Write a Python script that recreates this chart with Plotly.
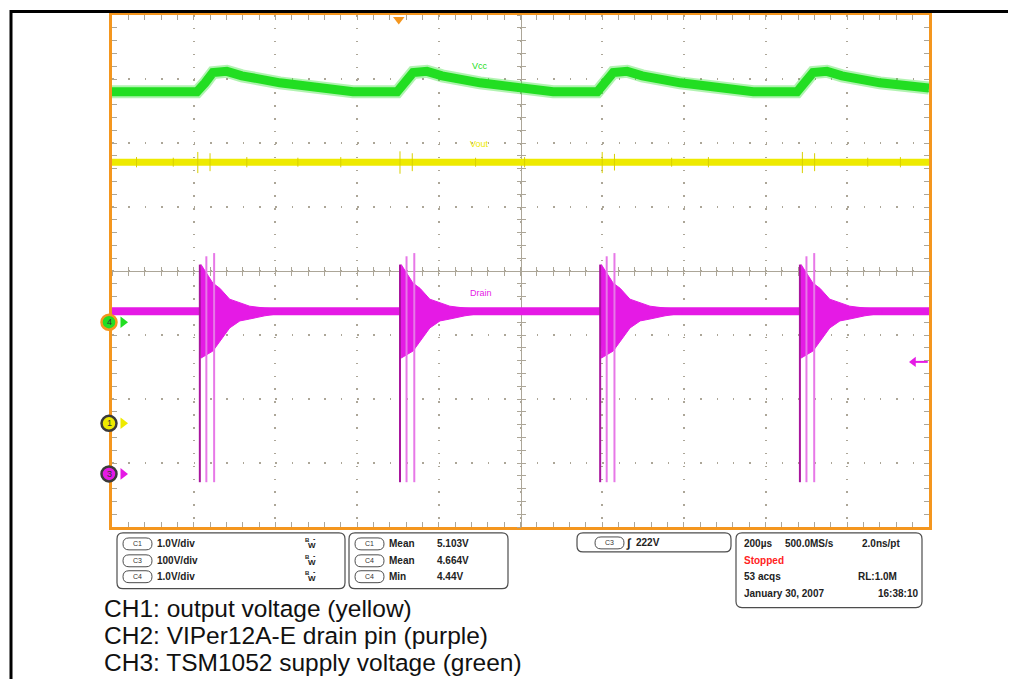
import plotly.graph_objects as go

# ---------------- data (time in µs, 200 µs/div; amplitude in screen divisions) ----------------
vcc_time = [0, 208, 228, 247, 281, 318, 411, 509, 590,
            698, 718, 737, 771, 808, 901, 999, 1080,
            1188, 1208, 1227, 1261, 1298, 1391, 1489, 1570,
            1677, 1697, 1716, 1750, 1787, 1880, 1978, 2000]
vcc_div = [2.80, 2.80, 2.94, 3.10, 3.12, 3.05, 2.94, 2.87, 2.80,
           2.80, 2.94, 3.10, 3.12, 3.05, 2.94, 2.87, 2.80,
           2.80, 2.94, 3.10, 3.12, 3.05, 2.94, 2.87, 2.80,
           2.80, 2.94, 3.10, 3.12, 3.05, 2.94, 2.87, 2.86]

vout_level = 1.70
vout_spike_time = [60, 150, 210, 240, 330, 455, 560, 705, 735, 890, 1010, 1200, 1230, 1370, 1460, 1690, 1720, 1850, 1930]
vout_spike_hi = [1.78, 1.77, 1.86, 1.84, 1.78, 1.77, 1.78, 1.87, 1.84, 1.77, 1.78, 1.86, 1.83, 1.77, 1.78, 1.86, 1.84, 1.77, 1.78]
vout_spike_lo = [1.62, 1.63, 1.53, 1.56, 1.62, 1.63, 1.62, 1.52, 1.56, 1.63, 1.62, 1.53, 1.57, 1.63, 1.62, 1.53, 1.56, 1.63, 1.62]

drain_level = -0.627
burst_start = [215, 705, 1195, 1684]
ring_dt = [0, 3, 32, 49, 73, 98, 122, 159, 200]
ring_top = [-0.60, 0.10, -0.19, -0.27, -0.44, -0.50, -0.55, -0.58, -0.60]
ring_bot = [-0.66, -1.36, -1.25, -1.09, -0.89, -0.78, -0.75, -0.70, -0.66]
spike_dt = [0, 16, 35]
spike_top = [0.10, 0.23, 0.28]
spike_bot = [-3.30, -3.30, -3.30]

channel_names = ["4", "1", "3"]
channel_levels = [-0.80, -2.38, -3.17]
trigger_level = -1.42
trigger_time = 702

# ---------------- styles ----------------
GREEN = "#22de22"
YELLOW = "#eeea00"
MAGENTA = "#e51ae5"
ORANGE = "#f4961e"
GRID = "#aca698"
FONT = "Liberation Sans, Arial, sans-serif"

fig = go.Figure()

# Vcc (green) - fuzz + core
fig.add_trace(go.Scatter(x=vcc_time, y=vcc_div, mode="lines",
                         line=dict(color=GREEN, width=13), opacity=0.35, hoverinfo="skip"))
fig.add_trace(go.Scatter(x=vcc_time, y=vcc_div, mode="lines",
                         line=dict(color=GREEN, width=9), hoverinfo="skip"))

# Vout (yellow)
fig.add_trace(go.Scatter(x=[0, 2000], y=[vout_level, vout_level], mode="lines",
                         line=dict(color=YELLOW, width=7), hoverinfo="skip"))
sx, sy = [], []
for t, hi, lo in zip(vout_spike_time, vout_spike_hi, vout_spike_lo):
    sx += [t, t, None]
    sy += [lo, hi, None]
fig.add_trace(go.Scatter(x=sx, y=sy, mode="lines", line=dict(color="#d8d000", width=1),
                         hoverinfo="skip"))

# Drain (magenta)
fig.add_trace(go.Scatter(x=[0, 2000], y=[drain_level, drain_level], mode="lines",
                         line=dict(color=MAGENTA, width=8), hoverinfo="skip"))
for b in burst_start:
    xs = [b + d for d in ring_dt] + [b + d for d in reversed(ring_dt)]
    ys = ring_top + list(reversed(ring_bot))
    fig.add_trace(go.Scatter(x=xs, y=ys, mode="lines", fill="toself", fillcolor=MAGENTA,
                             line=dict(color=MAGENTA, width=1), hoverinfo="skip"))
    for i, (d, top, bot) in enumerate(zip(spike_dt, spike_top, spike_bot)):
        col = "#a8159e" if i == 0 else "#e778e7"
        fig.add_trace(go.Scatter(x=[b + d, b + d], y=[bot, top], mode="lines",
                                 line=dict(color=col, width=2), hoverinfo="skip"))

# channel ground marker arrows (left)
ch_fill = [GREEN, YELLOW, MAGENTA]
ch_edge = [ORANGE, "#3a3a3a", "#3a3a3a"]
fig.add_trace(go.Scatter(x=[27] * 3, y=channel_levels, mode="markers",
                         marker=dict(symbol="triangle-right", size=10, color=ch_fill),
                         cliponaxis=False, hoverinfo="skip"))

# trigger level arrow (right) and trigger position (top)
fig.add_trace(go.Scatter(x=[1962, 1997], y=[trigger_level, trigger_level], mode="lines",
                         line=dict(color=MAGENTA, width=2), hoverinfo="skip"))
fig.add_trace(go.Scatter(x=[1962], y=[trigger_level], mode="markers",
                         marker=dict(symbol="triangle-left", size=9, color=MAGENTA),
                         hoverinfo="skip"))
fig.add_trace(go.Scatter(x=[trigger_time], y=[3.93], mode="markers",
                         marker=dict(symbol="triangle-down", size=10, color=ORANGE),
                         cliponaxis=False, hoverinfo="skip"))

# dummy traces for crosshair axes
fig.add_trace(go.Scatter(x=[None], y=[None], xaxis="x2", yaxis="y", hoverinfo="skip"))
fig.add_trace(go.Scatter(x=[None], y=[None], xaxis="x3", yaxis="y", hoverinfo="skip"))
fig.add_trace(go.Scatter(x=[None], y=[None], xaxis="x", yaxis="y2", hoverinfo="skip"))
fig.add_trace(go.Scatter(x=[None], y=[None], xaxis="x", yaxis="y3", hoverinfo="skip"))

common = dict(showticklabels=False, zeroline=False, fixedrange=True, layer="below traces")
fig.update_layout(
    width=1008, height=671,
    margin=dict(l=104, r=87, t=4, b=152),
    paper_bgcolor="white", plot_bgcolor="white", showlegend=False,
    xaxis=dict(range=[0, 2000], tick0=0, dtick=200, showgrid=True, gridcolor=GRID, gridwidth=1.5,
               griddash="1.5px,11.375px", ticks="inside", ticklen=5, tickcolor=GRID,
               minor=dict(dtick=40, tick0=0, ticks="inside", ticklen=5, tickcolor=GRID, showgrid=False),
               showline=True, linecolor=ORANGE, linewidth=3, mirror="ticks", **common),
    yaxis=dict(range=[-4, 4], tick0=0, dtick=1, showgrid=True, gridcolor=GRID, gridwidth=1.5,
               griddash="1.5px,14.84px", ticks="inside", ticklen=5, tickcolor=GRID,
               minor=dict(dtick=0.2, tick0=0, ticks="inside", ticklen=5, tickcolor=GRID, showgrid=False),
               showline=True, linecolor=ORANGE, linewidth=3, mirror="ticks", **common),
    xaxis2=dict(range=[0, 2000], overlaying="x", anchor="free", position=0.5, tick0=0, dtick=40,
                showgrid=False, showline=True, linecolor=GRID, linewidth=1,
                ticks="inside", ticklen=4, tickcolor=GRID, **common),
    xaxis3=dict(range=[0, 2000], overlaying="x", anchor="free", position=0.5, tick0=0, dtick=40,
                showgrid=False, showline=False, ticks="outside", ticklen=4, tickcolor=GRID, **common),
    yaxis2=dict(range=[-4, 4], overlaying="y", anchor="free", position=0.5, tick0=0, dtick=0.2,
                showgrid=False, showline=True, linecolor=GRID, linewidth=1,
                ticks="inside", ticklen=4, tickcolor=GRID, **common),
    yaxis3=dict(range=[-4, 4], overlaying="y", anchor="free", position=0.5, tick0=0, dtick=0.2,
                showgrid=False, showline=False, ticks="outside", ticklen=4, tickcolor=GRID, **common),
)

# ---------------- layout helpers (page pixel -> paper fraction of the plot area) ----------------
def PX(p):
    return (p - 112) / 817.0


def PY(p):
    return (527 - p) / 515.0


def rrect(x0, y0, x1, y1, r):
    pts = [("M", x0 + r, y0), ("L", x1 - r, y0), ("Q", x1, y0, x1, y0 + r), ("L", x1, y1 - r),
           ("Q", x1, y1, x1 - r, y1), ("L", x0 + r, y1), ("Q", x0, y1, x0, y1 - r),
           ("L", x0, y0 + r), ("Q", x0, y0, x0 + r, y0)]
    s = ""
    for p in pts:
        cmd = p[0]
        coords = p[1:]
        parts = []
        for i in range(0, len(coords), 2):
            parts.append("%.5f,%.5f" % (PX(coords[i]), PY(coords[i + 1])))
        s += cmd + " " + " ".join(parts) + " "
    return s + "Z"


shapes = []
# outer document frame
shapes.append(dict(type="line", xref="paper", yref="paper", x0=PX(10), x1=PX(1020), y0=PY(8.6), y1=PY(8.6),
                   line=dict(color="black", width=3)))
shapes.append(dict(type="line", xref="paper", yref="paper", x0=PX(11), x1=PX(11), y0=PY(7), y1=PY(690),
                   line=dict(color="black", width=3)))

# channel ground circles (left edge)
for lvl, fc, ec in zip(channel_levels, ch_fill, ch_edge):
    shapes.append(dict(type="circle", xref="paper", xsizemode="pixel", xanchor=PX(109), x0=-7.5, x1=7.5,
                       yref="y", ysizemode="pixel", yanchor=lvl, y0=-7.5, y1=7.5,
                       fillcolor=fc, line=dict(color=ec, width=2.5), layer="above"))

BOX = "#4d4d4d"
for (x0, y0, x1, y1) in [(117, 533, 345, 589), (349, 533, 508, 589), (577, 533, 731, 552), (736, 533, 922, 608)]:
    shapes.append(dict(type="path", xref="paper", yref="paper", path=rrect(x0, y0, x1, y1, 6),
                       line=dict(color=BOX, width=1.2)))

pill_specs = [(123, 544, "C1"), (123, 561, "C3"), (123, 577, "C4"),
              (355, 544, "C1"), (355, 561, "C4"), (355, 577, "C4"),
              (595, 543, "C3")]
ann = []
for (px, cy, lab) in pill_specs:
    shapes.append(dict(type="path", xref="paper", yref="paper",
                       path=rrect(px, cy - 6, px + 29, cy + 6, 6), line=dict(color=BOX, width=1)))
    ann.append(dict(x=PX(px + 14.5), y=PY(cy), text=lab, xanchor="center", yanchor="middle",
                    font=dict(family=FONT, size=7, color="#333333")))

for name, lvl in zip(channel_names, channel_levels):
    ann.append(dict(x=PX(109), y=lvl, yref="y", text=name, xanchor="center", yanchor="middle",
                    font=dict(family=FONT, size=9, color="#333333")))


def txt(x, y, s, size=10, color="#222222", bold=True, anchor="left"):
    ann.append(dict(x=PX(x), y=PY(y), text=s, xanchor=anchor, yanchor="middle",
                    font=dict(family=FONT, size=size, color=color, weight="bold" if bold else "normal")))


# box 1
for y, s in [(544, "1.0V/div"), (561, "100V/div"), (577, "1.0V/div")]:
    txt(155, y, s)
    txt(303, y - 4, "B", size=6)
    txt(306, y + 2, "W", size=8)
    txt(311, y - 5, "-", size=7)
# box 2
for y, a, b in [(544, "Mean", "5.103V"), (561, "Mean", "4.664V"), (577, "Min", "4.44V")]:
    txt(387, y, a)
    txt(435, y, b)
# box 3
txt(624, 543, "∫", size=12)
txt(634, 543, "222V")
# box 4
txt(742, 544, "200µs")
txt(783, 544, "500.0MS/s")
txt(860, 544, "2.0ns/pt")
txt(742, 561, "Stopped", color="#ff2222")
txt(742, 577, "53 acqs")
txt(856, 577, "RL:1.0M")
txt(742, 594, "January 30, 2007")
txt(876, 594, "16:38:10")

# trace labels
txt(470, 63, "Vcc", size=9, color=GREEN, bold=False)
txt(468, 142, "Vout", size=9, color=YELLOW, bold=False)
txt(468, 292, "Drain", size=9, color=MAGENTA, bold=False)

# captions
for y, s in [(609, "CH1: output voltage (yellow)"),
             (636, "CH2: VIPer12A-E drain pin (purple)"),
             (663, "CH3: TSM1052 supply voltage (green)")]:
    txt(102, y, s, size=24.5, color="#111111", bold=False)

for a in ann:
    a.setdefault("xref", "paper")
    a.setdefault("yref", "paper")
    a["showarrow"] = False

fig.update_layout(shapes=shapes, annotations=ann)
fig.write_html("out.html")
